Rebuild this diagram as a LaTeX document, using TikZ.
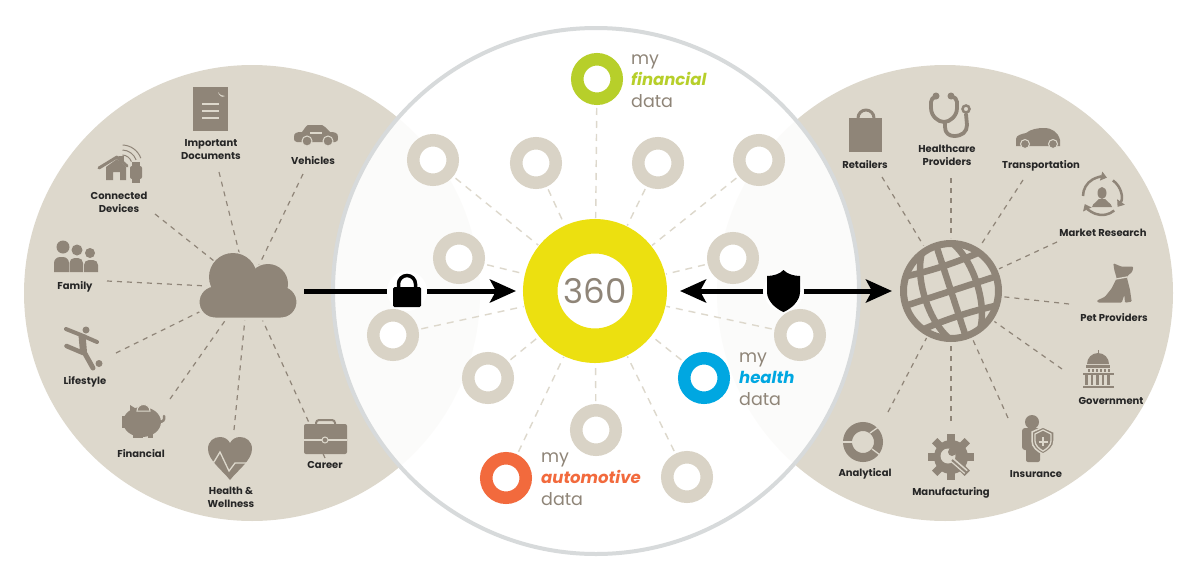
\documentclass[tikz,border=0pt]{standalone}
\usepackage{fontspec}
\usepackage{xcolor}
\usepackage{tikz}
\usetikzlibrary{arrows.meta}
\setmainfont{Poppins}
\definecolor{disc}{HTML}{DDD8CC}
\definecolor{iconc}{HTML}{8F8578}
\definecolor{ringc}{HTML}{D9D3C6}
\definecolor{rimc}{HTML}{D7DADB}
\definecolor{hubc}{HTML}{ECE010}
\definecolor{finc}{HTML}{B7CF2A}
\definecolor{healthc}{HTML}{00A7E1}
\definecolor{autoc}{HTML}{F26A3D}
\tikzset{
	lbl/.style={font=\bfseries\fontsize{10}{13}\selectfont, align=center, text=black!85, inner sep=0pt},
	datatxt/.style={font=\fontsize{17.5}{21.5}\selectfont, align=left, anchor=west, text=iconc, inner sep=0pt},
	ring/.style={circle, draw=ringc, fill=white, line width=12.5pt, minimum size=39.5pt, inner sep=0pt},
	ldash/.style={draw=iconc, line width=1.2pt, dash pattern=on 5pt off 5pt},
	cdash/.style={draw=disc, line width=1.4pt, dash pattern=on 7pt off 6pt},
	bigarrow/.style={draw=black, line width=5pt},
	tip/.style={-{Stealth[length=26pt,width=23pt,inset=6pt]}},
	iconfill/.style={fill=iconc},
	iconline/.style={draw=iconc, line width=3pt, line cap=round, line join=round},
	cut/.style={draw=disc, line width=1.3pt}
}
\begin{document}
\begin{tikzpicture}[x=1pt,y=-1pt]
	\useasboundingbox (0,0) rectangle (1200,581);
	\def\rdisc{228pt}

	% Make discs
	\fill[disc] (252,293) circle (\rdisc);
	\fill[disc] (945,293) circle (\rdisc);
	\fill[white, fill opacity=.91] (596,291) circle (263pt);
	\draw[rimc, line width=4pt] (596,291) circle (263pt);

	% Make middle
	\node[circle, draw=hubc, fill=white, line width=34.5pt, minimum size=109.5pt, inner sep=0pt, text=iconc, font=\fontsize{34}{34}\selectfont] (hub) at (595,291) {360};

	\foreach \nm/\px/\py in {a/433/160, b/536/163, c/658/163, d/759/160, e/459/258, f/733/258, g/393/335, h/800/335, i/488/378, j/596/430, k/687/477} {
		\node[ring] (\nm) at (\px,\py) {};
		\draw[cdash, shorten <=3pt, shorten >=1pt] (\nm) -- (hub);
	}
	\foreach \nm/\px/\py/\col in {fin/597/79/finc, health/704/378/healthc, auto/506/478/autoc} {
		\node[ring, draw=\col] (\nm) at (\px,\py) {};
		\draw[cdash, shorten <=3pt, shorten >=1pt] (\nm) -- (hub);
	}
	\node[datatxt] (fintxt) at (631,81) {my\\{\fontsize{16.5}{21.5}\selectfont\bfseries\itshape\color{finc}financial}\\data};
	\node[datatxt] (healthtxt) at (739,379) {my\\{\fontsize{16.5}{21.5}\selectfont\bfseries\itshape\color{healthc}health}\\data};
	\node[datatxt] (autotxt) at (541,479) {my\\{\fontsize{16.5}{21.5}\selectfont\bfseries\itshape\color{autoc}automotive}\\data};

	% Make left side
	\coordinate (cloudhub) at (248,288);
	\foreach \nm/\px/\py in {ldocs/219/172, lcars/303/174, ldev/155/214, lfam/107/281, lfun/116/353, lmon/170/399, lwell/234/430, ljob/325/458} {
		\coordinate (\nm) at (\px,\py);
		\draw[ldash] (\nm) -- (cloudhub);
	}
	\begin{scope}[draw=disc, fill=iconc, line width=3pt]
		\filldraw (233,277) circle (24pt);
		\filldraw (268,284) circle (20pt);
		\filldraw[rounded corners=17pt] (198,285) rectangle (298,319);
		\fill (233,277) circle (24pt);
		\fill (268,284) circle (20pt);
	\end{scope}

	\node[lbl] (docs) at (211,150) {Important\\Documents};
	\node[lbl] (cars) at (313,161) {Vehicles};
	\node[lbl] (dev) at (119,202) {Connected\\Devices};
	\node[lbl] (fam) at (75,286.5) {Family};
	\node[lbl] (fun) at (85,382) {Lifestyle};
	\node[lbl] (mon) at (141,454) {Financial};
	\node[lbl] (well) at (231,497) {Health \&\\Wellness};
	\node[lbl] (job) at (325,465) {Career};

	% documents
	\fill[iconfill] (193,87) rectangle (228,131);
	\fill[disc] (218,92) .. controls (220,95) and (222,96) .. (225,96) .. controls (222,98) and (219,96) .. (218,92) -- cycle;
	\foreach \py in {104,111,118}
		\draw[cut, line width=2pt] (202,\py) -- (219,\py);
	% sedan
	\fill[iconfill] (294,137) .. controls (294,133) and (296,132) .. (302,132) -- (306,126.5) .. controls (307,125) and (308,125) .. (310,125) -- (320,125) .. controls (322,125) and (323,125) .. (325,127) -- (330,132) .. controls (335,132) and (338,133) .. (338,137) .. controls (338,141) and (337,142) .. (335,142) -- (297,142) .. controls (295,142) and (294,141) .. (294,137) -- cycle;
	\draw[cut] (310,133) -- (322,133);
	\filldraw[iconfill, draw=disc, line width=1pt] (307,141) circle (5pt);
	\filldraw[iconfill, draw=disc, line width=1pt] (328,141) circle (5pt);
	% house and watch
	\fill[iconfill] (106,167) -- (117,159) -- (126,167) -- (126,180) -- (120,180) -- (120,172) -- (113,172) -- (113,180) -- (106,180) -- cycle;
	\draw[iconline] (99,168) -- (117,157) -- (127,166);
	\fill[iconfill] (119,156) rectangle (124,163);
	\foreach \rr in {10,15,20}
		\draw[draw=iconc, line width=1pt] ([shift={(88:\rr pt)}]122,165) arc[start angle=88, end angle=20, radius=\rr pt];
	\fill[iconfill, rounded corners=2pt] (130,166) rectangle (142,179);
	\fill[iconfill] (132,162) rectangle (140,183);
	% family
	\fill[iconfill] (63,247) circle (6.5pt);
	\fill[iconfill] (77,250) circle (5.5pt);
	\fill[iconfill] (90,253) circle (5pt);
	\fill[iconfill, rounded corners=6pt] (54,272) -- (54,257) -- (69,257) [sharp corners] -- (69,272) -- cycle;
	\fill[iconfill, rounded corners=5pt] (84,272) -- (84,260) -- (98,260) [sharp corners] -- (98,272) -- cycle;
	\fill[iconfill, rounded corners=5pt] (69.5,272) -- (69.5,258) -- (83,258) [sharp corners] -- (83,272) -- cycle;
	% player
	\fill[iconfill] (86,330) circle (3.5pt);
	\fill[iconfill] (99,363.5) circle (3.5pt);
	\draw[iconline, line width=4pt] (66,329) -- (81,335) -- (97,342);
	\draw[iconline, line width=7pt, line cap=butt] (82,335) -- (83.5,352);
	\draw[iconline, line width=4.5pt] (66.5,346) -- (83,353);
	\draw[iconline, line width=5pt] (83.5,351) -- (93,368);
	% piggy bank
	\fill[iconfill] (142,422) ellipse (19pt and 15pt);
	\fill[iconfill] (122,416) rectangle (130,428);
	\fill[iconfill] (133,430) rectangle (143,438);
	\fill[iconfill] (148,430) rectangle (153,438);
	\fill[iconfill] (130,405) -- (138,410) -- (130,414) -- cycle;
	\filldraw[iconfill, draw=disc, line width=1pt] (137,411) arc[start angle=180, end angle=0, radius=6.5pt] -- cycle;
	\draw[iconline, line width=2.5pt] (159,422) .. controls (163,422) and (165,420) .. (164,416);
	% heart
	\fill[iconfill] (230,480) .. controls (222,470) and (208,460) .. (208,449) .. controls (208,441) and (214,437) .. (220,437) .. controls (224,437) and (228,439) .. (230,443) .. controls (232,439) and (236,437) .. (240,437) .. controls (246,437) and (252,441) .. (252,449) .. controls (252,460) and (238,470) .. (230,480) -- cycle;
	\draw[cut] (210,462) -- (214,462) -- (220,452) -- (229,471) -- (235,463) -- (252,463);
	% briefcase
	\fill[iconfill, rounded corners=2pt] (304,424) rectangle (347,454);
	\draw[iconline, line width=2pt, rounded corners=3pt] (316,424) -- (316,420) -- (335,420) -- (335,424);
	\draw[cut] (304,440) -- (347,440);
	\filldraw[iconfill, draw=disc, line width=1pt] (325,440) circle (3pt);

	% Make right side
	\node[circle, draw=iconc, fill=disc, line width=7pt, minimum size=95pt, inner sep=0pt, outer sep=5.5pt] (globe) at (951,291) {};
	\begin{scope}
		\clip (951,291) circle (49pt);
		\begin{scope}[shift={(951,291)}, rotate=18, draw=iconc, line width=6.5pt]
			\draw (0,-54) -- (0,54);
			\draw (0,0) ellipse (27pt and 56pt);
			\draw (-54,0) -- (54,0);
			\foreach \py in {-26,26}
				\draw (-54,\py*1.15) .. controls (-20,\py*.95) and (20,\py*.95) .. (54,\py*1.15);
		\end{scope}
	\end{scope}
	\foreach \nm/\px/\py in {rbag/882/177, rmed/951/178, rcar/1023/180, rmkt/1057/242, rpet/1069/304, rgov/1062/369, rins/1008/418, rman/951/421, rana/888/412} {
		\coordinate (\nm) at (\px,\py);
		\draw[ldash] (\nm) -- (globe);
	}

	\node[lbl] (bag) at (865,165) {Retailers};
	\node[lbl] (med) at (947,155.5) {Healthcare\\Providers};
	\node[lbl] (car) at (1041,165.5) {Transportation};
	\node[lbl] (mkt) at (1103,232.5) {Market Research};
	\node[lbl] (pet) at (1114,318) {Pet Providers};
	\node[lbl] (gov) at (1111,401) {Government};
	\node[lbl] (ins) at (1036,474) {Insurance};
	\node[lbl] (man) at (951,493) {Manufacturing};
	\node[lbl] (ana) at (865,474) {Analytical};

	% bag
	\fill[iconfill] (849,118) rectangle (882,152);
	\draw[iconline, line cap=butt] (858,118) arc[start angle=180, end angle=0, radius=8pt];
	% stethoscope
	\draw[iconline, line width=3.8pt] (936,97) .. controls (933,97) and (931,99) .. (931,102) -- (931,108) .. controls (931,116) and (938,122) .. (944,122) .. controls (950,122) and (957,116) .. (957,108) -- (957,102) .. controls (957,99) and (955,97) .. (951,97);
	\draw[iconline, line width=3.8pt] (945,122) -- (945,127) .. controls (945,133) and (949,136) .. (954,136) .. controls (962,136) and (967,132) .. (967,125) -- (966,114);
	\fill[iconfill] (936,96) circle (3.5pt);
	\fill[iconfill] (951,96) circle (3.5pt);
	\filldraw[draw=iconc, fill=disc, line width=2.5pt] (966,109) circle (3.5pt);
	% hatchback
	\fill[iconfill] (1016,146) -- (1016,139) .. controls (1016,135) and (1022,134) .. (1026,133) .. controls (1031,129) and (1038,128) .. (1044,128) .. controls (1052,128) and (1058,132) .. (1060,140) -- (1060,146) -- cycle;
	\filldraw[iconfill, draw=disc, line width=1pt] (1025,144) circle (4.5pt);
	\filldraw[iconfill, draw=disc, line width=1pt] (1053,144) circle (4.5pt);
	% circular arrows and person
	\foreach \aa/\ab in {180/75, 55/-35, -50/-155}
		\draw[iconc, line width=2.5pt, -{Triangle[length=6pt,width=9pt]}] ([shift={(\aa:19pt)}]1102,196) arc[start angle=\aa, end angle=\ab, radius=19pt];
	\fill[iconfill] (1102,193) ellipse (4.5pt and 6pt);
	\fill[iconfill] (1092,207) .. controls (1093,203) and (1097,202) .. (1099,199) -- (1105,199) .. controls (1107,202) and (1111,203) .. (1112,207) -- cycle;
	% dog
	\fill[iconfill, rounded corners=1pt] (1113.3,263.3) -- (1121.7,266.7) -- (1133.3,266.7) -- (1132.3,271.7) -- (1126.7,276.7) -- (1130,290) -- (1131.7,301.7) -- (1125,302.7) -- (1124.3,295) -- (1121.7,302.7) -- (1098.3,302.7) -- (1096.7,300.7) -- (1105,296.7) -- (1111.7,288.3) -- (1116.7,278.3) -- (1114.3,270) -- cycle;
	\draw[cut] (1116,279) -- (1127,277);
	% capitol
	\fill[iconfill] (1087,364) arc[start angle=180, end angle=0, radius=11pt] -- cycle;
	\draw[iconc, line width=1pt] (1098,350) -- (1098,354);
	\fill[iconfill] (1086,365) rectangle (1110,368);
	\foreach \px in {1088,1092,...,1108}
		\fill[iconfill] (\px,369) rectangle (\px+2,372);
	\fill[iconfill] (1083,373) rectangle (1114,375);
	\foreach \px in {1085,1090.5,...,1111}
		\fill[iconfill] (\px,375) rectangle (\px+2.5,385);
	\fill[iconfill] (1083,386) rectangle (1114,388);
	% person and shield
	\fill[iconfill] (1032,422) circle (7pt);
	\fill[iconfill, rounded corners=3pt] (1022,428) rectangle (1043,450);
	\fill[iconfill, rounded corners=2pt] (1026,445) rectangle (1040,462);
	\filldraw[draw=disc, fill=iconc, line width=1.5pt] (1043,427) -- (1054,432) -- (1054,441) .. controls (1054,447) and (1049,451) .. (1043,454) .. controls (1037,451) and (1032,447) .. (1032,441) -- (1032,432) -- cycle;
	\draw[cut] (1043,430) -- (1051,434) -- (1051,441) .. controls (1051,445) and (1047,449) .. (1043,451) .. controls (1039,449) and (1035,445) .. (1035,441) -- (1035,434) -- cycle;
	\draw[cut, line width=2pt] (1043,437) -- (1043,446) (1038.5,441.5) -- (1047.5,441.5);
	% gear
	\fill[iconfill] (951,457) circle (17pt);
	\foreach \ang in {0,45,...,315}
		\draw[iconc, line width=7.5pt] ([shift={(\ang:14pt)}]951,457) -- ([shift={(\ang:23pt)}]951,457);
	\fill[disc] (948,456) circle (7.5pt);
	\draw[disc, line width=5pt] (950,458) -- (966,472);
	\fill[iconfill] (952,452) circle (4pt);
	\draw[iconc, line width=2pt] (952,460) -- (967,473);
	% analytical
	\draw[iconc, line width=9pt] (863,442) circle (15.5pt);
	\draw[cut] (842,442) -- (855,442);
	\draw[cut] (872,449) -- (880,455);
	\draw[cut] (870,433) -- (880,426);

	% Make arrows
	\node[circle, fill=white, minimum size=40pt, inner sep=0pt] (lockbox) at (407,291) {};
	\node[circle, fill=white, minimum size=40pt, inner sep=0pt] (shieldbox) at (783.5,291) {};
	\coordinate (cloudout) at (304,291);
	\coordinate (globein) at (892,291);
	\draw[bigarrow] (cloudout) -- (lockbox);
	\draw[bigarrow, tip, shorten >=7pt] (lockbox) -- (hub);
	\draw[bigarrow, tip, shorten >=13pt] (shieldbox) -- (hub);
	\draw[bigarrow, tip] (shieldbox) -- (globein);
	% lock
	\fill[black, rounded corners=1.5pt] (393,287) rectangle (421,307);
	\draw[black, line width=3.5pt] (398.5,287) -- (398.5,284) arc[start angle=180, end angle=0, radius=8.5pt] -- (415.5,287);
	% shield
	\fill[black] (783.5,270) .. controls (787,274) and (794,276) .. (800,276) -- (800,292) .. controls (800,301) and (791,309) .. (783.5,312) .. controls (776,309) and (767,301) .. (767,292) -- (767,276) .. controls (773,276) and (780,274) .. (783.5,270) -- cycle;
\end{tikzpicture}
\end{document}
